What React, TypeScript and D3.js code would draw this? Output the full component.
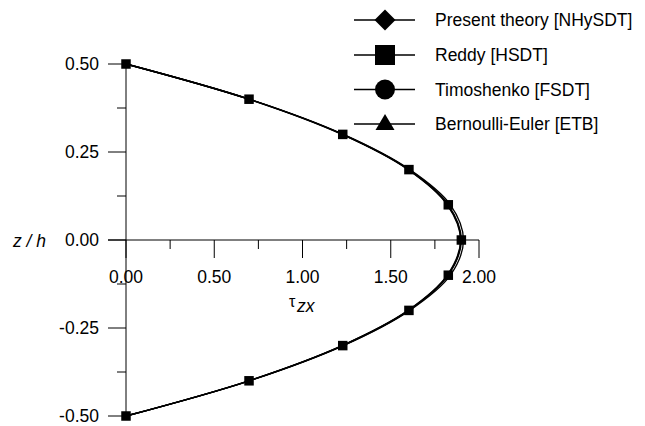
import React from "react";
import * as d3 from "d3";

const zLevels = [0.5, 0.4, 0.3, 0.2, 0.1, 0, -0.1, -0.2, -0.3, -0.4, -0.5];
const presentTheory = [0, 0.7, 1.232, 1.608, 1.838, 1.912, 1.838, 1.608, 1.232, 0.7, 0];
const reddy = [0, 0.697, 1.228, 1.603, 1.826, 1.9, 1.826, 1.603, 1.228, 0.697, 0];
const timoshenko = [0, 0.696, 1.226, 1.601, 1.823, 1.898, 1.823, 1.601, 1.226, 0.696, 0];
const bernoulli = [0, 0.695, 1.224, 1.598, 1.82, 1.895, 1.82, 1.598, 1.224, 0.695, 0];

const seriesNames = ["Present theory [NHySDT]", "Reddy [HSDT]", "Timoshenko [FSDT]", "Bernoulli-Euler [ETB]"];
const seriesMarkers = ["diamond", "square", "circle", "triangle"];

const xMajorTicks = [0, 0.5, 1, 1.5, 2];
const xMinorTicks = [0.25, 0.75, 1.25, 1.75];
const yMajorTicks = [0.5, 0.25, 0, -0.25, -0.5];
const yMinorTicks = [0.375, 0.125, -0.125, -0.375];

const W = 645;
const H = 426;
const FONT = "'Liberation Sans', Arial, sans-serif";

function markerPath(m: string): string {
  if (m === "diamond") return "M0,-10.5L10.5,0L0,10.5L-10.5,0Z";
  if (m === "square") return "M-10,-10H10V10H-10Z";
  if (m === "circle") return d3.symbol().type(d3.symbolCircle).size(Math.PI * 100)() as string;
  return "M0,-10L9.5,6H-9.5Z";
}

export default function App() {
  const x = d3.scaleLinear().domain([0, 2]).range([126, 479]);
  const y = d3.scaleLinear().domain([-0.5, 0.5]).range([416, 64]);

  const allSeries = [presentTheory, reddy, timoshenko, bernoulli];
  const line = d3
    .line<[number, number]>()
    .x((d) => x(d[0]))
    .y((d) => y(d[1]))
    .curve(d3.curveCatmullRom.alpha(0.5));

  const legendRows = [20, 55, 89.5, 124];

  return (
    <svg width={W} height={H} style={{ position: "absolute", left: 0, top: 0, background: "#fff" }} fontFamily={FONT}>
      <rect width={W} height={H} fill="#fff" />
      {allSeries.map((s, i) => (
        <path
          key={i}
          d={line(s.map((v, j) => [v, zLevels[j]] as [number, number])) || ""}
          fill="none"
          stroke="#000"
          strokeWidth={1.3}
        />
      ))}
      <line x1={108} x2={x(2)} y1={y(0)} y2={y(0)} stroke="#000" strokeWidth={1} />
      {xMajorTicks.map((t) => (
        <g key={"xM" + t}>
          <line x1={x(t)} x2={x(t)} y1={y(0)} y2={y(0) + 18} stroke="#000" strokeWidth={1} />
          <text x={x(t)} y={283} fontSize={17.5} textAnchor="middle" fill="#000">
            {d3.format(".2f")(t)}
          </text>
        </g>
      ))}
      {xMinorTicks.map((t) => (
        <line key={"xm" + t} x1={x(t)} x2={x(t)} y1={y(0)} y2={y(0) + 9} stroke="#000" strokeWidth={1} />
      ))}
      <line x1={x(0)} x2={x(0)} y1={y(0.5)} y2={y(-0.5)} stroke="#000" strokeWidth={1} />
      {yMajorTicks.map((t) => (
        <g key={"yM" + t}>
          <line x1={108} x2={x(0)} y1={y(t)} y2={y(t)} stroke="#000" strokeWidth={1} />
          <text x={99} y={y(t) + 6} fontSize={17.5} textAnchor="end" fill="#000">
            {d3.format(".2f")(t).replace("−", "-")}
          </text>
        </g>
      ))}
      {yMinorTicks.map((t) => (
        <line key={"ym" + t} x1={117} x2={x(0)} y1={y(t)} y2={y(t)} stroke="#000" strokeWidth={1} />
      ))}
      {reddy.map((v, j) => (
        <rect key={"m" + j} x={x(v) - 4.75} y={y(zLevels[j]) - 4.75} width={9.5} height={9.5} fill="#000" />
      ))}
      <text x={13} y={247} fontSize={17.5} fontStyle="italic" fill="#000">
        z / h
      </text>
      <text x={289} y={307} fontSize={16} fill="#000">
        τ
      </text>
      <text x={297} y={312} fontSize={17.5} fontStyle="italic" fill="#000">
        zx
      </text>
      {seriesNames.map((name, i) => (
        <g key={name}>
          <line x1={354} x2={415} y1={legendRows[i]} y2={legendRows[i]} stroke="#000" strokeWidth={1.3} />
          <path d={markerPath(seriesMarkers[i])} transform={`translate(385,${legendRows[i]})`} fill="#000" />
          <text x={435} y={legendRows[i] + 6} fontSize={17.5} fill="#000">
            {name}
          </text>
        </g>
      ))}
    </svg>
  );
}
